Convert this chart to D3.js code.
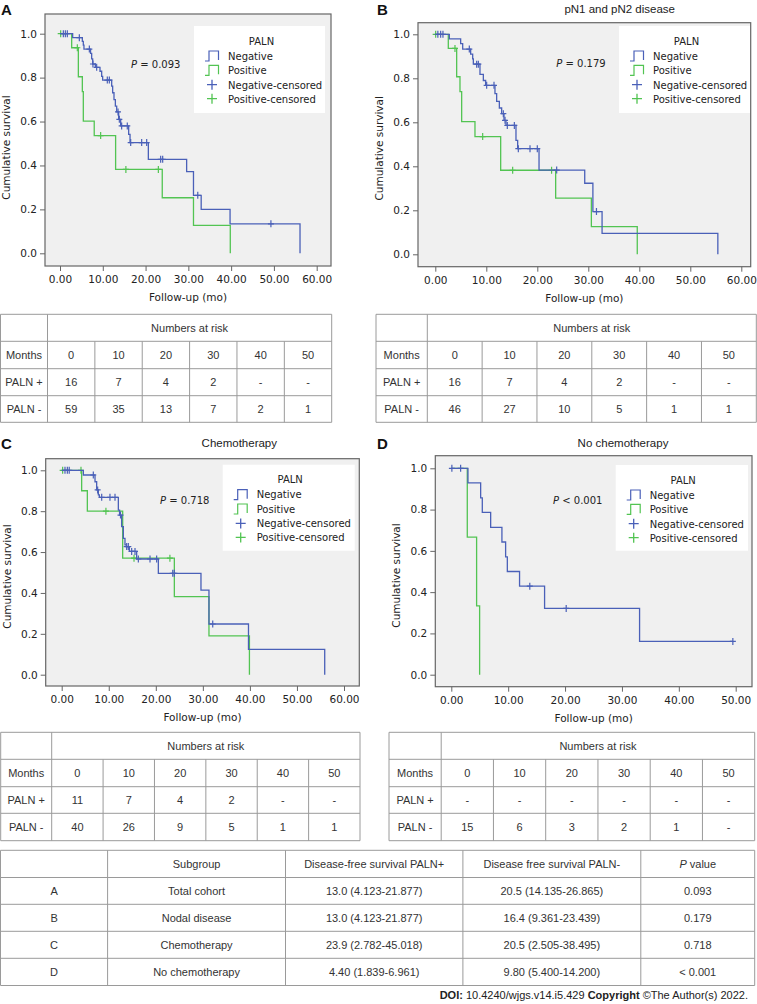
<!DOCTYPE html>
<html><head><meta charset="utf-8">
<script src="https://cdn.jsdelivr.net/npm/d3@7"></script>
<style>body{margin:0;background:#fff}</style>
</head><body><svg id="c" width="757" height="1004"></svg>
<script>
// ---------------- DATA ----------------
// Panel A (total cohort)
const negA_t = [2.96, 5.22, 5.45, 5.6, 7.14, 7.40, 7.64, 8.26, 9.35, 9.74, 9.97, 12.08, 12.31, 12.62, 12.94, 13.25, 13.71, 14.18, 16.05, 16.37, 20.65, 29.6, 31.2, 33.0, 39.75, 56.1];
const negA_s = [0.982, 0.965, 0.948, 0.93, 0.91, 0.885, 0.862, 0.847, 0.829, 0.806, 0.789, 0.761, 0.731, 0.70, 0.67, 0.644, 0.61, 0.58, 0.542, 0.504, 0.428, 0.372, 0.264, 0.20, 0.134, 0];
const negA_c = [0.78, 1.25, 1.71, 4.52, 6.86, 7.7, 8.57, 11.06, 11.53, 13.56, 13.87, 14.41, 15.73, 16.52, 19.09, 20.26, 23.53, 24.0, 32.2, 49.3];
const posA_t = [2.73, 4.29, 5.22, 5.45, 8.0, 13.0, 23.9, 31.2, 39.8];
const posA_s = [0.936, 0.804, 0.736, 0.602, 0.536, 0.382, 0.253, 0.127, 0];
const posA_c = [0.16, 4.05, 9.5, 15.4, 22.99];
// Panel B (pN1 and pN2 disease)
const negB_t = [2.75, 4.97, 5.37, 6.93, 7.33, 7.46, 8.76, 9.42, 9.87, 11.7, 12.03, 12.56, 13.01, 13.47, 13.86, 15.82, 16.15, 20.34, 29.3, 30.9, 32.7, 55.4];
const negB_s = [0.979, 0.958, 0.933, 0.91, 0.888, 0.864, 0.818, 0.79, 0.768, 0.73, 0.695, 0.665, 0.639, 0.609, 0.586, 0.518, 0.48, 0.383, 0.323, 0.194, 0.095, 0];
const negB_c = [0.5, 1.05, 1.5, 6.67, 8.11, 8.44, 10.07, 11.51, 13.34, 13.67, 14.12, 15.5, 16.28, 18.57, 20.0, 23.8, 31.6];
const posB_t = [2.55, 4.19, 4.84, 5.17, 7.78, 12.82, 23.6, 30.6, 39.6];
const posB_s = [0.936, 0.807, 0.739, 0.603, 0.535, 0.382, 0.255, 0.126, 0];
const posB_c = [0.07, 3.86, 9.29, 15.17, 22.8];
// Panel C (chemotherapy)
const negC_t = [4.6, 7.08, 7.43, 7.79, 8.0, 12.04, 12.3, 12.74, 13.1, 13.45, 13.75, 14.38, 15.93, 20.54, 29.6, 31.3, 39.7, 55.9];
const negC_s = [0.977, 0.944, 0.904, 0.88, 0.868, 0.805, 0.781, 0.724, 0.667, 0.635, 0.627, 0.603, 0.566, 0.496, 0.414, 0.248, 0.124, 0];
const negC_c = [0.7, 1.2, 1.6, 6.72, 7.64, 8.5, 10.26, 11.33, 12.5, 13.81, 14.16, 14.87, 15.58, 16.29, 18.77, 20.18, 23.6, 23.94, 32.1];
const posC_t = [4.24, 5.45, 12.96, 23.94, 31.3, 39.9];
const posC_s = [0.90, 0.80, 0.57, 0.382, 0.19, 0];
const posC_c = [0.2, 4.1, 9.4, 15.37, 23.0];
// Panel D (no chemotherapy)
const negD_t = [2.93, 5.16, 5.45, 6.92, 8.9, 9.55, 9.85, 12.0, 16.4, 33.1];
const negD_s = [0.929, 0.857, 0.786, 0.714, 0.643, 0.571, 0.5, 0.429, 0.321, 0.161];
const negD_end = 49.5;
const negD_c = [0.1, 1.64, 13.8, 20.2, 49.5];
const posD_t = [2.81, 4.45, 4.98];
const posD_s = [0.667, 0.333, 0];
const posD_c = [];

const yTicks = [0, 0.2, 0.4, 0.6, 0.8, 1.0];
const xTicks60 = [0, 10, 20, 30, 40, 50, 60];
const xTicks50 = [0, 10, 20, 30, 40, 50];
const legendTitle = "PALN";
const legendLabels = ["Negative", "Positive", "Negative-censored", "Positive-censored"];
const pA = "0.093", pB = "0.179", pC = "0.718", pD = "0.001";

// Numbers at risk
const riskMonths = ["0", "10", "20", "30", "40", "50"];
const riskA_pos = ["16", "7", "4", "2", "-", "-"];
const riskA_neg = ["59", "35", "13", "7", "2", "1"];
const riskB_pos = ["16", "7", "4", "2", "-", "-"];
const riskB_neg = ["46", "27", "10", "5", "1", "1"];
const riskC_pos = ["11", "7", "4", "2", "-", "-"];
const riskC_neg = ["40", "26", "9", "5", "1", "1"];
const riskD_pos = ["-", "-", "-", "-", "-", "-"];
const riskD_neg = ["15", "6", "3", "2", "1", "-"];

// Summary table
const sumHeader = ["", "Subgroup", "Disease-free survival PALN+", "Disease free survival PALN-", "P value"];
const sumIds = ["A", "B", "C", "D"];
const sumSubgroup = ["Total cohort", "Nodal disease", "Chemotherapy", "No chemotherapy"];
const sumPos = ["13.0 (4.123-21.877)", "13.0 (4.123-21.877)", "23.9 (2.782-45.018)", "4.40 (1.839-6.961)"];
const sumNeg = ["20.5 (14.135-26.865)", "16.4 (9.361-23.439)", "20.5 (2.505-38.495)", "9.80 (5.400-14.200)"];
const sumP = ["0.093", "0.179", "0.718", "< 0.001"];

// ---------------- STYLE ----------------
const BLUE = "#4a60b8", GREEN = "#52c452";
const AXF = "DejaVu Sans", TBF = "Liberation Sans";
const svg = d3.select("#c");

function kmPoints(ts, ss, end) {
  const pts = [[0, 1]]; let prev = 1;
  ts.forEach((t, i) => { pts.push([t, prev]); pts.push([t, ss[i]]); prev = ss[i]; });
  if (end != null && end > ts[ts.length - 1]) pts.push([end, prev]);
  return pts;
}
function stepAt(ts, ss, t) { let v = 1; ts.forEach((tt, i) => { if (tt <= t) v = ss[i]; }); return v; }

function panel(cfg) {
  const g = svg.append("g");
  const b = cfg.box;
  const x = d3.scaleLinear().domain([0, cfg.xmax]).range(cfg.xr);
  const y = d3.scaleLinear().domain([0, 1]).range(cfg.yr);
  g.append("rect").attr("x", b[0]).attr("y", b[1]).attr("width", b[2] - b[0]).attr("height", b[3] - b[1])
    .attr("fill", "#f0f0f0").attr("stroke", "#666").attr("stroke-width", 1.2);
  // axes
  const ya = g.append("g").attr("transform", `translate(${b[0]},0)`)
    .call(d3.axisLeft(y).tickValues(yTicks).tickFormat(d3.format(".1f")).tickSize(5).tickPadding(3));
  const xa = g.append("g").attr("transform", `translate(0,${b[3]})`)
    .call(d3.axisBottom(x).tickValues(cfg.xticks).tickFormat(d3.format(".2f")).tickSize(5).tickPadding(4.5));
  [ya, xa].forEach(a => {
    a.select(".domain").remove();
    a.selectAll("line").attr("stroke", "#666").attr("stroke-width", 1);
    a.selectAll("text").attr("font-family", AXF).attr("font-size", 10.5).attr("fill", "#222");
  });
  // axis titles
  g.append("text").attr("x", (b[0] + b[2]) / 2).attr("y", b[3] + 35).attr("text-anchor", "middle")
    .attr("font-family", AXF).attr("font-size", 10.5).attr("fill", "#222").text("Follow-up (mo)");
  g.append("text").attr("transform", `translate(${b[0] - 35},${(cfg.yr[0] + cfg.yr[1]) / 2 + 4}) rotate(-90)`)
    .attr("text-anchor", "middle").attr("font-family", AXF).attr("font-size", 10.5).attr("fill", "#222").text("Cumulative survival");
  // legend
  const L = cfg.legend;
  const lg = g.append("g").attr("transform", `translate(${L[0]},${L[1]})`);
  lg.append("rect").attr("width", L[2]).attr("height", L[3]).attr("fill", "#fff");
  lg.append("text").attr("x", 67.5).attr("y", 18.5).attr("text-anchor", "middle").attr("font-family", AXF)
    .attr("font-size", 10).attr("fill", "#222").text(legendTitle);
  const rows = [30, 44.3, 58.7, 72.7];
  const cols = [BLUE, GREEN, BLUE, GREEN];
  rows.forEach((ry, i) => {
    if (i < 2) {
      lg.append("path").attr("d", `M11,${ry + 5}H15V${ry - 5}H24.5V${ry + 4}`).attr("fill", "none")
        .attr("stroke", cols[i]).attr("stroke-width", 1.2);
    } else {
      lg.append("path").attr("d", `M13,${ry}H23M18,${ry - 5}V${ry + 5}`).attr("stroke", cols[i]).attr("stroke-width", 1.3);
    }
    lg.append("text").attr("x", 34).attr("y", ry + 3.8).attr("font-family", AXF).attr("font-size", 10)
      .attr("fill", "#222").text(legendLabels[i]);
  });
  // curves
  const line = d3.line().x(d => x(d[0])).y(d => y(d[1]));
  const series = [
    { t: cfg.pos[0], s: cfg.pos[1], c: cfg.pos[2], end: cfg.pos[3], col: GREEN },
    { t: cfg.neg[0], s: cfg.neg[1], c: cfg.neg[2], end: cfg.neg[3], col: BLUE }
  ];
  series.forEach(sr => {
    g.append("path").attr("d", line(kmPoints(sr.t, sr.s, sr.end))).attr("fill", "none")
      .attr("stroke", sr.col).attr("stroke-width", 1.3);
    g.selectAll(null).data(sr.c).enter().append("path")
      .attr("d", d => { const cx = x(d), cy = y(stepAt(sr.t, sr.s, d)); return `M${cx - 3},${cy}H${cx + 3}M${cx},${cy - 3.5}V${cy + 3.5}`; })
      .attr("stroke", sr.col).attr("stroke-width", 1.2);
  });
  // p value
  const pt = g.append("text").attr("x", cfg.p[0]).attr("y", cfg.p[1]).attr("font-family", AXF).attr("font-size", 10).attr("fill", "#222");
  pt.append("tspan").attr("font-style", "italic").text("P");
  pt.append("tspan").text(` ${cfg.p[2]} ${cfg.p[3]}`);
  // title & letter
  if (cfg.title) g.append("text").attr("x", cfg.title[0]).attr("y", cfg.title[1]).attr("text-anchor", "middle")
    .attr("font-family", TBF).attr("font-size", 11.5).attr("fill", "#222").text(cfg.title[2]);
  g.append("text").attr("x", cfg.letter[0]).attr("y", cfg.letter[1]).attr("font-family", TBF).attr("font-weight", "bold")
    .attr("font-size", 15).attr("fill", "#111").text(cfg.letter[2]);
}

panel({ box: [45, 14, 331, 266], xr: [60, 316.7], yr: [253.3, 33.7], xmax: 60, xticks: xTicks60,
  legend: [194, 26, 131, 87], p: [131, 68, "=", pA], letter: [1, 15, "A"], title: null,
  neg: [negA_t, negA_s, negA_c, null], pos: [posA_t, posA_s, posA_c, null] });
panel({ box: [418, 22.7, 750.7, 266.7], xr: [435.3, 741.3], yr: [254.3, 34.3], xmax: 60, xticks: xTicks60,
  legend: [619, 26, 131, 87], p: [556.3, 67, "=", pB], letter: [377, 15, "B"], title: [619.7, 13, "pN1 and pN2 disease"],
  neg: [negB_t, negB_s, negB_c, null], pos: [posB_t, posB_s, posB_c, null] });
panel({ box: [45.7, 458.7, 359.3, 686], xr: [61.7, 344], yr: [674.7, 470.3], xmax: 60, xticks: xTicks60,
  legend: [222.7, 464.7, 132, 86], p: [160, 504, "=", pC], letter: [1, 449, "C"], title: [239.3, 447, "Chemotherapy"],
  neg: [negC_t, negC_s, negC_c, null], pos: [posC_t, posC_s, posC_c, null] });
panel({ box: [435.3, 455.7, 752, 686.7], xr: [451.3, 735.7], yr: [674.7, 468.3], xmax: 50, xticks: xTicks50,
  legend: [615.7, 465, 132.3, 85.7], p: [553, 504, "<", pD], letter: [377, 449, "D"], title: [623, 447, "No chemotherapy"],
  neg: [negD_t, negD_s, negD_c, negD_end], pos: [posD_t, posD_s, posD_c, null] });

// ---------------- TABLES ----------------
function gridLines(g, xs, ys, skipHeaderInner) {
  ys.forEach(yy => g.append("line").attr("x1", xs[0]).attr("x2", xs[xs.length - 1]).attr("y1", yy).attr("y2", yy));
  xs.forEach((xx, i) => {
    const top = (skipHeaderInner && i > 1 && i < xs.length - 1) ? ys[1] : ys[0];
    g.append("line").attr("x1", xx).attr("x2", xx).attr("y1", top).attr("y2", ys[ys.length - 1]);
  });
  g.selectAll("line").attr("stroke", "#9a9a9a").attr("stroke-width", 1);
}
function cellText(g, cx, cy, txt) {
  return g.append("text").attr("x", cx).attr("y", cy + 4).attr("text-anchor", "middle").attr("font-family", TBF)
    .attr("font-size", 11).attr("fill", "#333").text(txt);
}
function riskTable(left, firstW, right, ys, pos, neg) {
  const g = svg.append("g");
  const w = (right - left - firstW) / 6;
  const xs = [left, left + firstW]; for (let i = 1; i <= 6; i++) xs.push(left + firstW + i * w);
  gridLines(g, xs, ys, true);
  cellText(g, (xs[1] + xs[7]) / 2, (ys[0] + ys[1]) / 2, "Numbers at risk");
  const rowLab = ["Months", "PALN +", "PALN -"];
  const rowVals = [riskMonths, pos, neg];
  rowLab.forEach((lab, r) => {
    const cy = (ys[r + 1] + ys[r + 2]) / 2;
    cellText(g, (xs[0] + xs[1]) / 2, cy, lab);
    rowVals[r].forEach((v, c) => cellText(g, (xs[c + 1] + xs[c + 2]) / 2, cy, v));
  });
}
riskTable(0.5, 47, 331.7, [314.3, 341.3, 368.7, 395.7, 422.3], riskA_pos, riskA_neg);
riskTable(376, 51.3, 756.3, [314.3, 341.3, 368.7, 395.7, 422.3], riskB_pos, riskB_neg);
riskTable(0.7, 51, 360, [732.3, 759.3, 786.7, 813.3, 840.7], riskC_pos, riskC_neg);
riskTable(389, 52.2, 754.7, [732.3, 759.3, 786.7, 813.3, 840.7], riskD_pos, riskD_neg);

(function summary() {
  const g = svg.append("g");
  const xs = [0.5, 107.6, 285.5, 462.9, 640.8, 754.7];
  const ys = [850.3, 877.5, 904.3, 931.3, 958.3, 985.5];
  gridLines(g, xs, ys, false);
  sumHeader.forEach((h, c) => {
    const cx = (xs[c] + xs[c + 1]) / 2, cy = (ys[0] + ys[1]) / 2;
    if (h === "P value") {
      const t = cellText(g, cx, cy, "");
      t.append("tspan").attr("font-style", "italic").text("P");
      t.append("tspan").text(" value");
    } else cellText(g, cx, cy, h);
  });
  sumIds.forEach((id, r) => {
    const cy = (ys[r + 1] + ys[r + 2]) / 2;
    [id, sumSubgroup[r], sumPos[r], sumNeg[r], sumP[r]].forEach((v, c) => cellText(g, (xs[c] + xs[c + 1]) / 2, cy, v));
  });
})();

// footer
const ft = svg.append("text").attr("x", 748).attr("y", 999).attr("text-anchor", "end").attr("font-family", TBF)
  .attr("font-size", 11).attr("fill", "#222");
ft.append("tspan").attr("font-weight", "bold").text("DOI:");
ft.append("tspan").text(" 10.4240/wjgs.v14.i5.429 ");
ft.append("tspan").attr("font-weight", "bold").text("Copyright");
ft.append("tspan").text(" \u00A9The Author(s) 2022.");
</script></body></html>
